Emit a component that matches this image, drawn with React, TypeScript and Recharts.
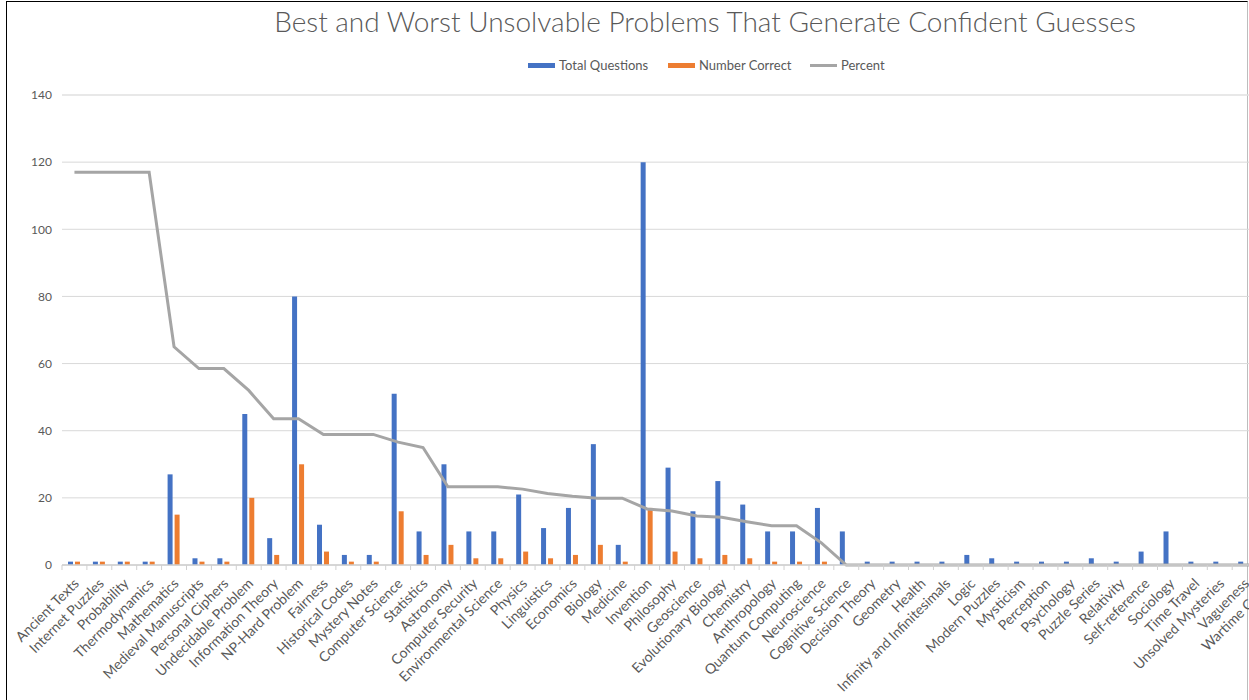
import React from 'react';
import { ComposedChart, Bar, Line, XAxis, YAxis, CartesianGrid } from 'recharts';

const categories = [
  'Ancient Texts', 'Internet Puzzles', 'Probability', 'Thermodynamics', 'Mathematics',
  'Medieval Manuscripts', 'Personal Ciphers', 'Undecidable Problem', 'Information Theory', 'NP-Hard Problem',
  'Fairness', 'Historical Codes', 'Mystery Notes', 'Computer Science', 'Statistics',
  'Astronomy', 'Computer Security', 'Environmental Science', 'Physics', 'Linguistics',
  'Economics', 'Biology', 'Medicine', 'Invention', 'Philosophy',
  'Geoscience', 'Evolutionary Biology', 'Chemistry', 'Anthropology', 'Quantum Computing',
  'Neuroscience', 'Cognitive Science', 'Decision Theory', 'Geometry', 'Health',
  'Infinity and Infinitesimals', 'Logic', 'Modern Puzzles', 'Mysticism', 'Perception',
  'Psychology', 'Puzzle Series', 'Relativity', 'Self-reference', 'Sociology',
  'Time Travel', 'Unsolved Mysteries', 'Vagueness', 'Wartime Codes',
];

const totalQuestions = [
  1, 1, 1, 1, 27,
  2, 2, 45, 8, 80,
  12, 3, 3, 51, 10,
  30, 10, 10, 21, 11,
  17, 36, 6, 120, 29,
  16, 25, 18, 10, 10,
  17, 10, 1, 1, 1,
  1, 3, 2, 1, 1,
  1, 2, 1, 4, 10,
  1, 1, 1, 1,
];

const numberCorrect = [
  1, 1, 1, 1, 15,
  1, 1, 20, 3, 30,
  4, 1, 1, 16, 3,
  6, 2, 2, 4, 2,
  3, 6, 1, 17, 4,
  2, 3, 2, 1, 1,
  1, 0, 0, 0, 0,
  0, 0, 0, 0, 0,
  0, 0, 0, 0, 0,
  0, 0, 0, 0,
];

const percent = [
  117, 117, 117, 117, 65,
  58.5, 58.5, 52, 43.6, 43.6,
  38.9, 38.9, 38.9, 36.6, 35,
  23.3, 23.3, 23.3, 22.6, 21.3,
  20.5, 19.9, 19.9, 16.7, 16.1,
  14.6, 14.2, 12.9, 11.7, 11.7,
  6.6, 0, 0, 0, 0,
  0, 0, 0, 0, 0,
  0, 0, 0, 0, 0,
  0, 0, 0, 0,
];

const yTicks = [0, 20, 40, 60, 80, 100, 120, 140];
const minorTicks = [0, 4, 8, 12, 16, 20, 24, 28, 32, 36, 40, 44, 48, 52, 56, 60, 64, 68, 72, 76, 80, 84, 88, 92, 96, 100, 104, 108, 112, 116, 120, 124, 128, 132, 136, 140];

const legendItems = [
  { label: 'Total Questions', color: '#4472C4', kind: 'bar' },
  { label: 'Number Correct', color: '#ED7D31', kind: 'bar' },
  { label: 'Percent', color: '#A5A5A5', kind: 'line' },
];

const data = categories.map((name, i) => ({
  name,
  total: totalQuestions[i],
  correct: numberCorrect[i],
  percent: percent[i],
}));

const FONT = 'Lato, "Open Sans", sans-serif';
const TEXT = '#595959';
const BAND = 24.9;

const XTick = (props: any) => {
  const { x, y, payload } = props;
  return (
    <g transform={`translate(${x},${y})`}>
      <line x1={-BAND / 2} x2={-BAND / 2} y1={0} y2={5} stroke="#D0D0D0" strokeWidth={1} />
      <text
        x={2}
        y={16}
        dy="0.35em"
        textAnchor="end"
        transform="rotate(-45, 2, 16)"
        fill={TEXT}
        fontSize={14}
        fontFamily={FONT}
      >
        {payload.value}
      </text>
    </g>
  );
};

const LEGEND_LEFTS = [528, 668, 810];

const LegendBlock = () => (
  <div style={{ position: 'absolute', left: 0, top: 56, height: 18, width: 1249 }}>
    {legendItems.map((it, i) => (
      <div
        key={it.label}
        style={{ position: 'absolute', left: LEGEND_LEFTS[i], top: 0, height: 18, display: 'flex', alignItems: 'center' }}
      >
        <div style={{ width: 27, height: it.kind === 'bar' ? 5 : 3, background: it.color }} />
        <span style={{ marginLeft: 4, fontSize: 13, color: TEXT, fontFamily: FONT, whiteSpace: 'nowrap' }}>{it.label}</span>
      </div>
    ))}
  </div>
);

export default function App() {
  return (
    <div
      style={{
        position: 'absolute',
        left: 0,
        top: 0,
        width: 1249,
        height: 700,
        overflow: 'hidden',
        background: '#fff',
      }}
    >
      <div
        style={{
          position: 'absolute',
          left: 6,
          top: 1,
          width: 1242,
          height: 720,
          borderTop: '1.5px solid #000',
          borderLeft: '1.5px solid #000',
          borderRight: '1.5px solid #BDBDBD',
          boxSizing: 'border-box',
        }}
      />
      <svg style={{ position: 'absolute', left: 0, top: 0 }} width={1249} height={50}>
        <text
          x={705}
          y={32}
          textAnchor="middle"
          fill={TEXT}
          fontSize={28}
          fontFamily={FONT}
          fontWeight={300}
        >
          Best and Worst Unsolvable Problems That Generate Confident Guesses
        </text>
      </svg>
      <LegendBlock />
      <div style={{ position: 'absolute', left: 0, top: 0 }}>
        <ComposedChart
          width={1300}
          height={700}
          data={data}
          margin={{ top: 95, right: 18, left: 0, bottom: 0 }}
          barSize={5}
          barGap={2}
        >
          <CartesianGrid yAxisId="minor" vertical={false} stroke="#EFEFEF" strokeWidth={1} />
          <CartesianGrid vertical={false} stroke="#D9D9D9" strokeWidth={1} />
          <XAxis
            dataKey="name"
            interval={0}
            tick={<XTick />}
            tickLine={false}
            tickSize={0}
            tickMargin={0}
            height={135}
            axisLine={{ stroke: '#D0D0D0', strokeWidth: 1.5 }}
          />
          <YAxis
            width={62}
            domain={[0, 140]}
            ticks={yTicks}
            axisLine={false}
            tickLine={false}
            tickSize={0}
            tickMargin={10}
            tick={{ fill: TEXT, fontSize: 12, fontFamily: FONT }}
          />
          <YAxis yAxisId="minor" hide domain={[0, 140]} ticks={minorTicks} />
          <Bar dataKey="total" name="Total Questions" fill="#4472C4" isAnimationActive={false} />
          <Bar dataKey="correct" name="Number Correct" fill="#ED7D31" isAnimationActive={false} />
          <Line
            dataKey="percent"
            name="Percent"
            type="linear"
            stroke="#A5A5A5"
            strokeWidth={3}
            dot={false}
            activeDot={false}
            isAnimationActive={false}
          />
        </ComposedChart>
      </div>
    </div>
  );
}
